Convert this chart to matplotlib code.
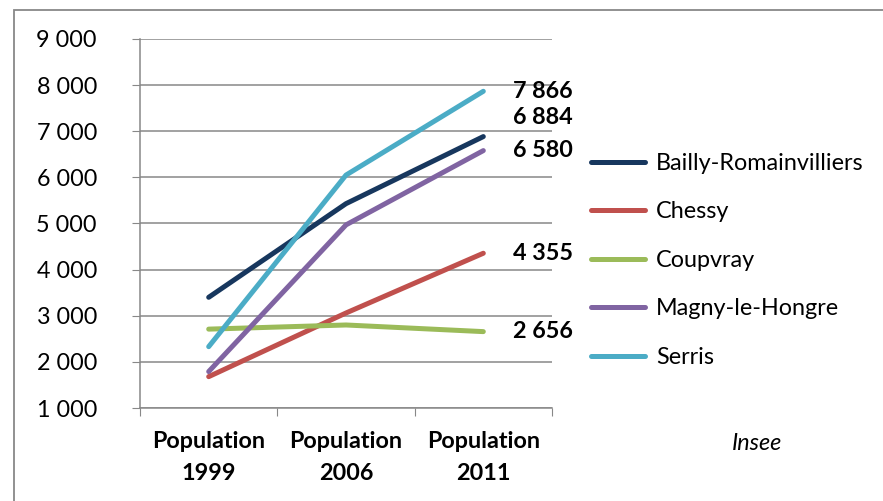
import matplotlib.pyplot as plt
from matplotlib.patches import Rectangle
from matplotlib.ticker import FuncFormatter, FixedLocator

plt.rcParams["font.family"] = ["Lato", "DejaVu Sans"]

categories = ["Population\n1999", "Population\n2006", "Population\n2011"]
communes = ["Bailly-Romainvilliers", "Chessy", "Coupvray", "Magny-le-Hongre", "Serris"]
bailly = [3400, 5430, 6884]
chessy = [1680, 3060, 4355]
coupvray = [2710, 2800, 2656]
magny = [1790, 4970, 6580]
serris = [2330, 6050, 7866]
colors = ["#17375E", "#C0504D", "#9BBB59", "#8064A2", "#4BACC6"]
# vertical nudge (points) for the end labels, so they don't overlap
label_dy = [14, 0, 0, 0, 0]

series = [bailly, chessy, coupvray, magny, serris]
FS = 16.8

fig = plt.figure(figsize=(8.83, 5.01), dpi=100)
ax = fig.add_axes([0.1586, 0.1856, 0.4665, 0.7366])

x = range(len(categories))
for name, vals, c in zip(communes, series, colors):
    ax.plot(x, vals, color=c, lw=3.6, solid_capstyle="round", label=name)

for vals, c, dy in zip(series, colors, label_dy):
    v = vals[-1]
    ax.annotate(f"{v:,}".replace(",", " "), xy=(2, v), xytext=(21.5, dy),
                textcoords="offset points", ha="left", va="center",
                fontsize=FS, fontweight="bold")

ax.set_xlim(-0.5, 2.5)
ax.set_ylim(1000, 9000)
ax.set_yticks(range(1000, 9001, 1000))
ax.yaxis.set_major_formatter(FuncFormatter(lambda v, p: f"{int(v):,}".replace(",", " ")))
ax.xaxis.set_major_locator(FixedLocator([-0.5, 0.5, 1.5, 2.5]))
ax.set_xticklabels([])
for i, lab in enumerate(categories):
    ax.text(i, -0.062, lab, transform=ax.get_xaxis_transform(), ha="center", va="top",
            fontsize=FS, fontweight="bold", linespacing=1.65)

ax.grid(axis="y", color="#888888", lw=1.1)
ax.set_axisbelow(True)
for s in ["top", "right"]:
    ax.spines[s].set_visible(False)
for s in ["left", "bottom"]:
    ax.spines[s].set_color("#888888")
    ax.spines[s].set_linewidth(1.1)
ax.tick_params(axis="y", length=6, color="#888888", labelsize=FS, pad=25)
ax.tick_params(axis="x", length=6, color="#888888")

leg = fig.legend(loc="upper left", bbox_to_anchor=(0.645, 0.737), frameon=False,
                 fontsize=FS, handlelength=2.35, handletextpad=0.47, labelspacing=1.18)
for line in leg.get_lines():
    line.set_linewidth(3.6)

fig.text(0.857, 0.115, "Insee", ha="center", va="center", fontsize=FS, style="italic")

fig.patches.append(Rectangle((14 / 883, -0.1), 1.2, 1.1 - 9.5 / 501, transform=fig.transFigure,
                             fill=False, edgecolor="#888888", lw=1.3))

fig.savefig("out.png", dpi=100)
